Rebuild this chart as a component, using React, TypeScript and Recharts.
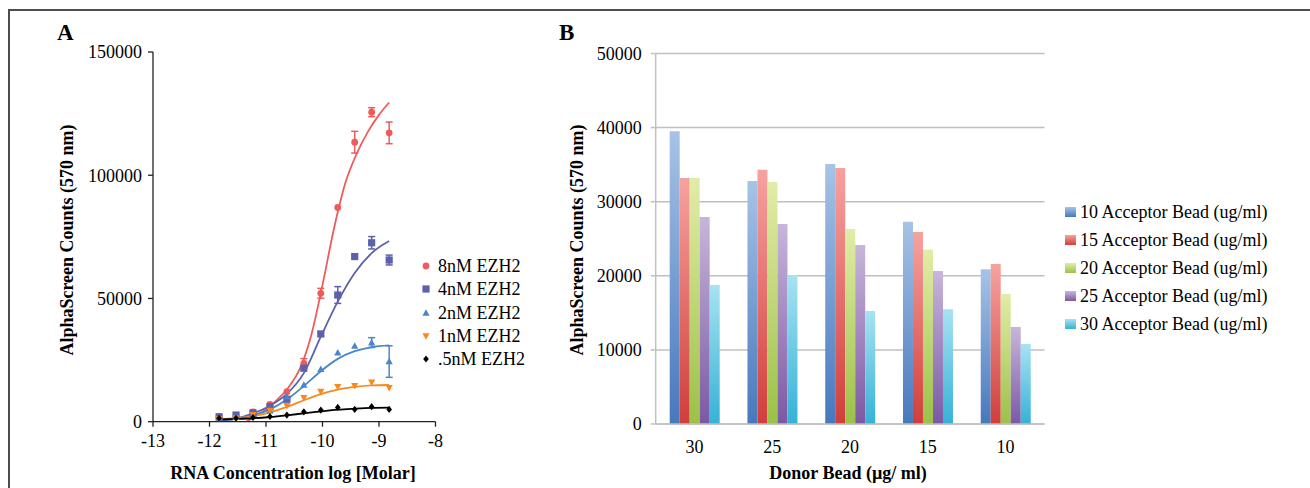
import React from 'react';
import { ComposedChart, Line, Scatter, ErrorBar, XAxis, YAxis, BarChart, Bar, CartesianGrid } from 'recharts';

const FONT = '"Liberation Serif", "Times New Roman", serif';

// ---------- Panel A data ----------
const logConc = [-11.83, -11.53, -11.23, -10.93, -10.63, -10.33, -10.03, -9.73, -9.43, -9.13, -8.82];
const ezh8 = [2000, 2400, 4000, 7000, 12200, 23700, 52100, 86900, 113400, 125600, 117200];
const err8 = [0, 0, 0, 0, 0, 1900, 2000, 0, 4400, 1800, 4400];
const ezh4 = [2000, 2700, 3600, 6100, 9100, 21700, 35600, 51400, 67000, 72600, 65600];
const err4 = [0, 0, 0, 0, 0, 0, 0, 3400, 0, 2500, 2000];
const ezh2 = [1500, 1800, 3000, 4500, 10100, 14900, 21300, 28000, 30700, 32100, 24400];
const err2 = [0, 0, 0, 0, 0, 0, 0, 0, 0, 2000, 6400];
const ezh1 = [1200, 1500, 2800, 4500, 6500, 9700, 12200, 14200, 14600, 16000, 13800];
const ezh05 = [1400, 1400, 1700, 2100, 2700, 4000, 4700, 5800, 5000, 6100, 5000];

// fitted curves
const fit8X = [-11.35, -11.2, -11.0, -10.8, -10.6, -10.4, -10.2, -10.0, -9.8, -9.6, -9.4, -9.2, -9.0, -8.82];
const fit8 = [0, 2000, 5000, 9000, 14000, 21500, 35000, 55500, 78000, 96500, 108500, 117500, 124500, 129500];
const fit4 = [500, 1300, 3400, 6500, 11300, 19700, 34500, 48700, 60300, 68400, 73300];
const fit2 = [500, 1200, 2600, 5000, 9000, 14500, 20500, 25500, 28600, 30300, 31000];
const fit1 = [1000, 1400, 2300, 3800, 6000, 8700, 11200, 13000, 14100, 14700, 14900];
const fit05 = [900, 1100, 1400, 1900, 2600, 3400, 4200, 4900, 5300, 5600, 5700];

const seriesNamesA = ['8nM EZH2', '4nM EZH2', '2nM EZH2', '1nM EZH2', '.5nM EZH2'];
const colorsA = ['#ef5b5b', '#5d61ad', '#4a86cb', '#f7891f', '#000000'];
const yTicksA = [0, 50000, 100000, 150000];
const xTicksA = [-13, -12, -11, -10, -9, -8];

// ---------- Panel B data ----------
const donorBead = ['30', '25', '20', '15', '10'];
const acc10 = [39500, 32800, 35100, 27300, 20900];
const acc15 = [33200, 34300, 34550, 25900, 21600];
const acc20 = [33200, 32650, 26300, 23500, 17550];
const acc25 = [27950, 27000, 24150, 20650, 13100];
const acc30 = [18750, 20100, 15250, 15500, 10800];
const seriesNamesB = [
  '10 Acceptor Bead (ug/ml)',
  '15 Acceptor Bead (ug/ml)',
  '20 Acceptor Bead (ug/ml)',
  '25 Acceptor Bead (ug/ml)',
  '30 Acceptor Bead (ug/ml)',
];
const yTicksB = [0, 10000, 20000, 30000, 40000, 50000];
const gradB = [
  ['#a7c3e7', '#4778bd'],
  ['#f7a29f', '#d03e3a'],
  ['#e2eca8', '#9bc148'],
  ['#c7b6da', '#7c58a5'],
  ['#a8e2f2', '#35b2d6'],
];

const pts = (ys: number[], xs: number[] = logConc) => xs.map((x, i) => ({ x, y: ys[i] }));
const errPts = (ys: number[], es: number[]) =>
  logConc.map((x, i) => ({ x, y: ys[i], e: es[i] })).filter((d) => d.e > 0);

const barRows = donorBead.map((d, i) => ({
  name: d,
  a10: acc10[i],
  a15: acc15[i],
  a20: acc20[i],
  a25: acc25[i],
  a30: acc30[i],
}));
const barKeys = ['a10', 'a15', 'a20', 'a25', 'a30'];

// ---------- markers ----------
const Marker = ({ kind, cx, cy, color }: { kind: number; cx: number; cy: number; color: string }) => {
  if (kind === 0) return <circle cx={cx} cy={cy} r={3.4} fill={color} />;
  if (kind === 1) return <rect x={cx - 3.6} y={cy - 3.6} width={7.2} height={7.2} fill={color} />;
  if (kind === 2)
    return <polygon points={`${cx},${cy - 3.8} ${cx + 3.6},${cy + 2.8} ${cx - 3.6},${cy + 2.8}`} fill={color} />;
  if (kind === 3)
    return <polygon points={`${cx - 3.6},${cy - 2.8} ${cx + 3.6},${cy - 2.8} ${cx},${cy + 3.8}`} fill={color} />;
  return <polygon points={`${cx},${cy - 3.6} ${cx + 2.8},${cy} ${cx},${cy + 3.6} ${cx - 2.8},${cy}`} fill={color} />;
};

const tickStyle = { fontSize: 18, fill: '#000', fontFamily: FONT };

const abs = (left: number, top: number, extra: React.CSSProperties = {}): React.CSSProperties => ({
  position: 'absolute',
  left,
  top,
  fontFamily: FONT,
  color: '#000',
  whiteSpace: 'nowrap',
  ...extra,
});

export default function App() {
  const dataA = [ezh8, ezh4, ezh2, ezh1, ezh05];
  const fitsA = [pts(fit8, fit8X), pts(fit4), pts(fit2), pts(fit1), pts(fit05)];
  const errsA = [errPts(ezh8, err8), errPts(ezh4, err4), errPts(ezh2, err2)];

  return (
    <div
      style={{
        position: 'absolute',
        left: 0,
        top: 0,
        width: 1310,
        height: 488,
        overflow: 'hidden',
        background: '#fff',
      }}
    >
      {/* frame */}
      <div
        style={{
          position: 'absolute',
          left: 8,
          top: 9,
          width: 1400,
          height: 600,
          border: '2.5px solid #4d4d4d',
        }}
      />

      {/* Panel A */}
      <div style={abs(57, 20, { fontSize: 23, fontWeight: 'bold' })}>A</div>
      <div style={{ position: 'absolute', left: 0, top: 0 }}>
        <ComposedChart width={460} height={488} margin={{ top: 52, right: 24.5, bottom: 36.3, left: 73 }}>
          <XAxis
            type="number"
            dataKey="x"
            domain={[-13, -8]}
            ticks={xTicksA}
            allowDataOverflow
            height={30}
            tick={tickStyle}
            tickSize={5}
            tickMargin={8}
            axisLine={{ stroke: '#222', strokeWidth: 1.3 }}
            tickLine={{ stroke: '#222', strokeWidth: 1.3 }}
          />
          <YAxis
            type="number"
            dataKey="y"
            domain={[0, 150000]}
            ticks={yTicksA}
            allowDataOverflow
            width={80}
            tick={tickStyle}
            tickSize={5}
            tickMargin={6}
            axisLine={{ stroke: '#222', strokeWidth: 1.3 }}
            tickLine={{ stroke: '#222', strokeWidth: 1.3 }}
          />
          {fitsA.map((d, i) => (
            <Line
              key={'fit' + i}
              data={d}
              dataKey="y"
              type="monotone"
              stroke={colorsA[i]}
              strokeWidth={1.8}
              dot={false}
              activeDot={false}
              isAnimationActive={false}
            />
          ))}
          {errsA.map((d, i) => (
            <Scatter
              key={'err' + i}
              data={d}
              dataKey="y"
              shape={() => <g />}
              isAnimationActive={false}
            >
              <ErrorBar dataKey="e" direction="y" width={3.5} stroke={colorsA[i]} strokeWidth={1.5} />
            </Scatter>
          ))}
          {dataA.map((ys, i) => (
            <Scatter
              key={'pts' + i}
              data={pts(ys)}
              dataKey="y"
              shape={(p: any) => <Marker kind={i} cx={p.cx} cy={p.cy} color={colorsA[i]} />}
              isAnimationActive={false}
            />
          ))}
        </ComposedChart>
      </div>
      {/* Panel A legend */}
      {seriesNamesA.map((n, i) => (
        <div key={n} style={abs(420, 255 + i * 23.3, { fontSize: 18, height: 23, lineHeight: '23px' })}>
          <svg width={14} height={14} style={{ position: 'absolute', left: -1, top: 4 }}>
            <Marker kind={i} cx={7} cy={7} color={colorsA[i]} />
          </svg>
          <span style={{ position: 'absolute', left: 18, top: 0 }}>{n}</span>
        </div>
      ))}
      {/* Panel A titles */}
      <div
        style={abs(67, 240, {
          fontSize: 18,
          fontWeight: 'bold',
          transform: 'translate(-50%, -50%) rotate(-90deg)',
        })}
      >
        AlphaScreen Counts (570 nm)
      </div>
      <div style={abs(293, 473, { fontSize: 18, fontWeight: 'bold', transform: 'translate(-50%, -50%)' })}>
        RNA Concentration log [Molar]
      </div>

      {/* Panel B */}
      <div style={abs(559, 20, { fontSize: 23, fontWeight: 'bold' })}>B</div>
      <div style={{ position: 'absolute', left: 540, top: 0 }}>
        <BarChart
          width={520}
          height={488}
          data={barRows}
          margin={{ top: 53.5, right: 15.5, bottom: 34, left: 45.7 }}
          barCategoryGap={14}
          barGap={0}
        >
          <defs>
            {gradB.map((g, i) => (
              <linearGradient key={i} id={'gb' + i} x1="0" y1="0" x2="0" y2="1">
                <stop offset="0%" stopColor={g[0]} />
                <stop offset="100%" stopColor={g[1]} />
              </linearGradient>
            ))}
          </defs>
          <CartesianGrid vertical={false} stroke="#c0c0c0" strokeWidth={1.5} />
          <XAxis
            dataKey="name"
            height={30}
            tick={tickStyle}
            tickLine={false}
            tickSize={0}
            tickMargin={16}
            axisLine={{ stroke: '#c0c0c0', strokeWidth: 1.5 }}
          />
          <YAxis
            domain={[0, 50000]}
            ticks={yTicksB}
            width={70}
            tick={tickStyle}
            tickSize={5}
            tickMargin={9}
            axisLine={{ stroke: '#c0c0c0', strokeWidth: 1.5 }}
            tickLine={{ stroke: '#c0c0c0', strokeWidth: 1.5 }}
          />
          {barKeys.map((k, i) => (
            <Bar key={k} dataKey={k} name={seriesNamesB[i]} fill={`url(#gb${i})`} isAnimationActive={false} />
          ))}
        </BarChart>
      </div>
      {/* Panel B legend */}
      {seriesNamesB.map((n, i) => (
        <div key={n} style={abs(1065, 198 + i * 28.1, { fontSize: 18, height: 28, lineHeight: '28px' })}>
          <div
            style={{
              position: 'absolute',
              left: 0,
              top: 9,
              width: 11,
              height: 10,
              background: `linear-gradient(${gradB[i][0]}, ${gradB[i][1]})`,
            }}
          />
          <span style={{ position: 'absolute', left: 15, top: 0 }}>{n}</span>
        </div>
      ))}
      <div
        style={abs(577, 240, {
          fontSize: 18,
          fontWeight: 'bold',
          transform: 'translate(-50%, -50%) rotate(-90deg)',
        })}
      >
        AlphaScreen Counts (570 nm)
      </div>
      <div style={abs(848, 473, { fontSize: 18, fontWeight: 'bold', transform: 'translate(-50%, -50%)' })}>
        Donor Bead (µg/ ml)
      </div>
    </div>
  );
}
